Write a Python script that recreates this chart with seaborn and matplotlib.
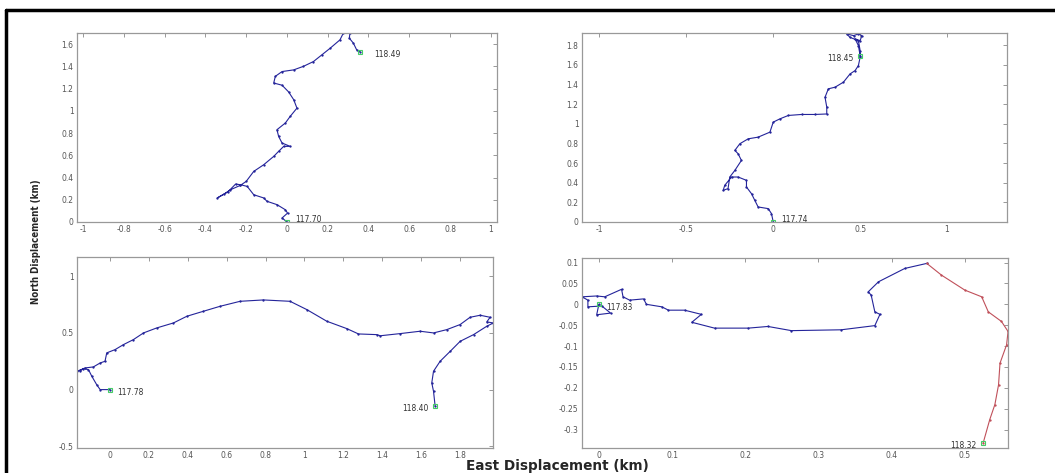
import matplotlib
matplotlib.use("Agg")
import matplotlib.pyplot as plt
from matplotlib.lines import Line2D
import seaborn as sns
import pandas as pd

sns.set_style("white")
plt.rcParams['font.family'] = ['DejaVu Sans']

# --- trajectories (km) ---
east_a = [0.0, -0.024, 0.003, -0.008, -0.049, -0.098, -0.114, -0.163, -0.195, -0.228, -0.252,
          -0.29, -0.342, -0.31, -0.277, -0.228, -0.2, -0.163, -0.114, -0.065, -0.041, -0.016,
          0.016, -0.024, -0.041, -0.049, -0.008, 0.016, 0.049, 0.033, 0.008, -0.024, -0.065,
          -0.057, -0.024, 0.033, 0.081, 0.13, 0.171, 0.212, 0.26, 0.277, 0.309, 0.306, 0.326,
          0.342, 0.358]
north_a = [0.0, 0.036, 0.08, 0.11, 0.156, 0.186, 0.216, 0.245, 0.32, 0.335, 0.341,
           0.27, 0.216, 0.25, 0.29, 0.33, 0.365, 0.455, 0.515, 0.59, 0.635, 0.68,
           0.68, 0.71, 0.77, 0.83, 0.89, 0.95, 1.024, 1.10, 1.17, 1.23, 1.25,
           1.31, 1.353, 1.368, 1.40, 1.443, 1.503, 1.563, 1.638, 1.70, 1.70, 1.653, 1.608,
           1.548, 1.533]

east_b = [0.0, -0.01, -0.029, -0.087, -0.106, -0.125, -0.154, -0.154, -0.202, -0.24, -0.279,
          -0.288, -0.26, -0.25, -0.221, -0.183, -0.202, -0.221, -0.192, -0.144, -0.087, -0.019,
          0.0, 0.038, 0.087, 0.163, 0.24, 0.308, 0.308, 0.298, 0.317, 0.356, 0.404, 0.442,
          0.471, 0.49, 0.5, 0.5, 0.49, 0.442, 0.423, 0.462, 0.49, 0.51, 0.5, 0.471, 0.49, 0.5]
north_b = [0.0, 0.085, 0.136, 0.153, 0.22, 0.288, 0.356, 0.424, 0.458, 0.458, 0.373,
           0.322, 0.34, 0.458, 0.525, 0.627, 0.695, 0.729, 0.797, 0.847, 0.864, 0.915,
           1.017, 1.05, 1.085, 1.095, 1.095, 1.10, 1.17, 1.27, 1.356, 1.373, 1.424, 1.508,
           1.542, 1.593, 1.678, 1.746, 1.847, 1.88, 1.915, 1.898, 1.915, 1.898, 1.847, 1.864,
           1.797, 1.695]

east_c = [0.0, -0.051, -0.069, -0.094, -0.111, -0.137, -0.154, -0.171, -0.154, -0.129, -0.086,
          -0.051, -0.026, -0.017, 0.026, 0.069, 0.12, 0.172, 0.24, 0.326, 0.395, 0.48, 0.566,
          0.669, 0.789, 0.926, 1.012, 1.115, 1.218, 1.278, 1.372, 1.39, 1.492, 1.595, 1.664,
          1.732, 1.801, 1.852, 1.904, 1.955, 1.938, 1.972, 1.938, 1.87, 1.801, 1.75, 1.698,
          1.664, 1.655, 1.664, 1.672]
north_c = [0.0, 0.0, 0.044, 0.118, 0.176, 0.185, 0.168, 0.162, 0.172, 0.191, 0.2,
           0.235, 0.25, 0.324, 0.353, 0.397, 0.441, 0.5, 0.544, 0.588, 0.647, 0.691, 0.735,
           0.779, 0.791, 0.779, 0.706, 0.603, 0.538, 0.491, 0.485, 0.475, 0.494, 0.515, 0.5,
           0.529, 0.574, 0.638, 0.656, 0.638, 0.597, 0.588, 0.559, 0.485, 0.426, 0.338, 0.25,
           0.162, 0.059, -0.015, -0.141]

east_d = [0.0, -0.003, 0.016, 0.004, -0.015, -0.015, -0.023, -0.003, 0.008, 0.031, 0.033,
          0.042, 0.061, 0.065, 0.086, 0.095, 0.117, 0.14, 0.127, 0.158, 0.204, 0.231, 0.263,
          0.331, 0.377, 0.384, 0.377, 0.372, 0.368, 0.382, 0.418, 0.448]
north_d = [0.0, -0.025, -0.021, -0.004, -0.006, 0.010, 0.018, 0.020, 0.018, 0.036, 0.018,
           0.010, 0.013, 0.0, -0.006, -0.014, -0.014, -0.024, -0.043, -0.057, -0.057, -0.053,
           -0.063, -0.061, -0.051, -0.024, -0.018, 0.022, 0.030, 0.054, 0.086, 0.098]
east_d2 = [0.448, 0.468, 0.5, 0.523, 0.532, 0.55, 0.559, 0.557, 0.548, 0.546, 0.541, 0.534, 0.525]
north_d2 = [0.098, 0.07, 0.034, 0.018, -0.018, -0.041, -0.065, -0.097, -0.141, -0.193, -0.24,
            -0.276, -0.332]

start_labels = ["117.70", "117.74", "117.78", "117.83"]
end_labels = ["118.49", "118.45", "118.40", "118.32"]

xlims = [(-1.03, 1.03), (-1.1, 1.345), (-0.17, 1.97), (-0.023, 0.559)]
ylims = [(0, 1.70), (0, 1.925), (-0.515, 1.17), (-0.344, 0.111)]
xticks = [[-1, -0.8, -0.6, -0.4, -0.2, 0, 0.2, 0.4, 0.6, 0.8, 1],
          [-1, -0.5, 0, 0.5, 1],
          [0, 0.2, 0.4, 0.6, 0.8, 1, 1.2, 1.4, 1.6, 1.8],
          [0, 0.1, 0.2, 0.3, 0.4, 0.5]]
yticks = [[0, 0.2, 0.4, 0.6, 0.8, 1, 1.2, 1.4, 1.6],
          [0, 0.2, 0.4, 0.6, 0.8, 1, 1.2, 1.4, 1.6, 1.8],
          [-0.5, 0, 0.5, 1],
          [-0.3, -0.25, -0.2, -0.15, -0.1, -0.05, 0, 0.05, 0.1]]

tracks = [(east_a, north_a), (east_b, north_b), (east_c, north_c), (east_d, north_d)]

fig = plt.figure(figsize=(10.55, 4.73), dpi=100)
boxes = [[0.073, 0.5307, 0.398, 0.3996], [0.5517, 0.5307, 0.4028, 0.3996],
         [0.073, 0.0529, 0.3943, 0.4038], [0.5517, 0.0529, 0.4038, 0.4017]]

blue = '#24249a'
green = '#44cc66'
# where the end label sits relative to end marker (offset points, ha)
end_off = [((10, -2), 'left'), ((-5, -2), 'right'), ((-5, -2), 'right'), ((-5, -2), 'right')]

for i, box in enumerate(boxes):
    ax = fig.add_axes(box)
    ex, no = tracks[i]
    df = pd.DataFrame({'east': ex, 'north': no})
    sns.lineplot(data=df, x='east', y='north', sort=False, estimator=None,
                 color=blue, lw=0.8, marker='.', markersize=1.8, mec=blue, ax=ax)
    if i == 3:
        df2 = pd.DataFrame({'east': east_d2, 'north': north_d2})
        sns.lineplot(data=df2, x='east', y='north', sort=False, estimator=None,
                     color='#c0505a', lw=0.8, marker='.', markersize=1.8, mec='#c0505a', ax=ax)
        endx, endy = east_d2[-1], north_d2[-1]
    else:
        endx, endy = ex[-1], no[-1]
    ax.plot([ex[0], endx], [no[0], endy], ls='none', marker='s', ms=3,
            mfc='none', mec=green, mew=0.8)
    ax.annotate(start_labels[i], (ex[0], no[0]), xytext=(6, 2) if i in (0, 1) else (5, -2),
                textcoords='offset points', fontsize=5.5, color='#333333', va='center')
    off, ha = end_off[i]
    ax.annotate(end_labels[i], (endx, endy), xytext=off, textcoords='offset points',
                fontsize=5.5, color='#333333', ha=ha, va='center')

    ax.set_xlim(*xlims[i])
    ax.set_ylim(*ylims[i])
    ax.set_xticks(xticks[i])
    ax.set_yticks(yticks[i])
    ax.set_xticklabels([f"{t:g}" for t in xticks[i]])
    ax.set_yticklabels([f"{t:g}" for t in yticks[i]])
    ax.set_xlabel('')
    ax.set_ylabel('')
    ax.tick_params(direction='in', length=3, width=0.6, color='#888888',
                   labelsize=5.5, labelcolor='#555555', pad=2.5,
                   top=True, right=True)
    for sp in ax.spines.values():
        sp.set_color('#999999')
        sp.set_linewidth(0.9)

fig.text(0.034, 0.49, 'North Displacement (km)', rotation=90, ha='center', va='center',
         fontsize=7, fontweight='bold', fontstretch='condensed',
         family=['Liberation Sans Narrow', 'DejaVu Sans'])
fig.text(0.528, 0.014, 'East Displacement (km)', ha='center', va='center',
         fontsize=9.8, fontweight='bold', family=['DejaVu Sans'])

# frame lines at the top and left of the reference image
fig.add_artist(Line2D([0.006, 1.0], [0.979, 0.979], color='black', lw=2.5,
                      transform=fig.transFigure))
fig.add_artist(Line2D([0.006, 0.006], [0.0, 0.979], color='black', lw=2.5,
                      transform=fig.transFigure))

fig.savefig('out.png', dpi=100)
